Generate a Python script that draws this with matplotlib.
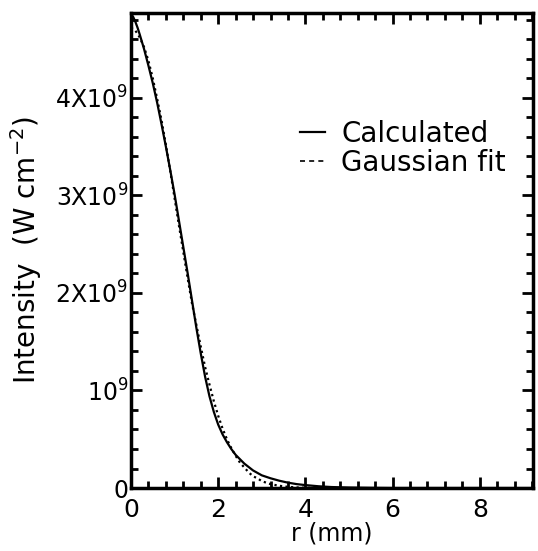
import numpy as np
import matplotlib
matplotlib.use('Agg')
import matplotlib.pyplot as plt
from matplotlib.lines import Line2D
from matplotlib.ticker import MultipleLocator, FixedLocator

plt.rcParams['font.family'] = ['DejaVu Sans']
plt.rcParams['mathtext.fontset'] = 'dejavusans'

# radius (mm) and intensity (units of 1e9 W cm^-2)
r_calc = [0.0, 0.05, 0.1, 0.15, 0.2, 0.3, 0.4, 0.5, 0.6, 0.7, 0.8, 0.9, 1.0, 1.1, 1.2,
          1.3, 1.4, 1.5, 1.6, 1.7, 1.8, 1.9, 2.0, 2.1, 2.2, 2.3, 2.4, 2.6, 2.8, 3.0,
          3.2, 3.4, 3.6, 3.8, 4.0, 4.3, 4.6, 5.0, 5.5, 6.0, 9.2]
i_calc = [4.86, 4.83, 4.78, 4.72, 4.65, 4.50, 4.33, 4.15, 3.95, 3.73, 3.50, 3.26, 3.01, 2.74, 2.47,
          2.20, 1.92, 1.64, 1.38, 1.14, 0.94, 0.78, 0.65, 0.55, 0.47, 0.40, 0.34, 0.25, 0.18, 0.13,
          0.10, 0.075, 0.055, 0.04, 0.03, 0.018, 0.01, 0.005, 0.002, 0.0, 0.0]

r_fit = [0.0, 0.1, 0.2, 0.3, 0.4, 0.5, 0.6, 0.7, 0.8, 0.9, 1.0, 1.1, 1.2, 1.3, 1.4,
         1.5, 1.6, 1.7, 1.8, 1.9, 2.0, 2.1, 2.2, 2.3, 2.4, 2.5, 2.6, 2.7, 2.8, 2.9,
         3.0, 3.2, 3.4, 3.6, 3.8, 4.0, 4.3]
i_fit = [4.72, 4.69, 4.62, 4.52, 4.38, 4.20, 3.99, 3.77, 3.52, 3.25, 2.97, 2.69, 2.42, 2.15, 1.89,
         1.67, 1.45, 1.24, 1.06, 0.89, 0.74, 0.61, 0.50, 0.41, 0.33, 0.26, 0.21, 0.16, 0.12, 0.10,
         0.07, 0.04, 0.023, 0.012, 0.006, 0.003, 0.001]

ytick_vals = [0, 1, 2, 3, 4]
ytick_labels = ['0', r'10$^9$', r'2X10$^9$', r'3X10$^9$', r'4X10$^9$']
xtick_vals = [0, 2, 4, 6, 8]

fig = plt.figure(figsize=(5.38, 5.51), dpi=100)
ax = fig.add_axes([0.2435, 0.1143, 0.7472, 0.8621])

ax.plot(r_calc, i_calc, color='black', lw=1.6, solid_joinstyle='round')
ax.plot(r_fit, i_fit, color='black', lw=1.6, linestyle=(0, (1, 1.5)))

ax.set_xlim(0, 9.22)
ax.set_ylim(0, 4.87)

ax.xaxis.set_major_locator(FixedLocator(xtick_vals))
ax.xaxis.set_minor_locator(MultipleLocator(0.4))
ax.yaxis.set_major_locator(FixedLocator(ytick_vals))
ax.yaxis.set_minor_locator(MultipleLocator(0.2))
ax.set_yticklabels(ytick_labels)

ax.tick_params(which='both', direction='in', top=True, right=True, width=2)
ax.tick_params(which='major', length=8)
ax.tick_params(which='minor', length=5)
ax.tick_params(axis='x', pad=7, labelsize=18)
ax.tick_params(axis='y', pad=2, labelsize=17)
for s in ax.spines.values():
    s.set_linewidth(2.5)

ax.set_xlabel('r (mm)', fontsize=17, labelpad=0)
ax.set_ylabel(r'Intensity  (W cm$^{-2}$)', fontsize=20, labelpad=8)

handles = [Line2D([], [], color='black', lw=1.6),
           Line2D([], [], color='black', lw=1.2, linestyle=(0, (3, 2.5)))]
ax.legend(handles, ['Calculated', 'Gaussian fit'], loc='upper left',
          bbox_to_anchor=(0.385, 0.805), frameon=False, fontsize=20,
          handlelength=0.9, handletextpad=0.6, labelspacing=0.05, borderpad=0)

fig.savefig('out.png', dpi=100)
